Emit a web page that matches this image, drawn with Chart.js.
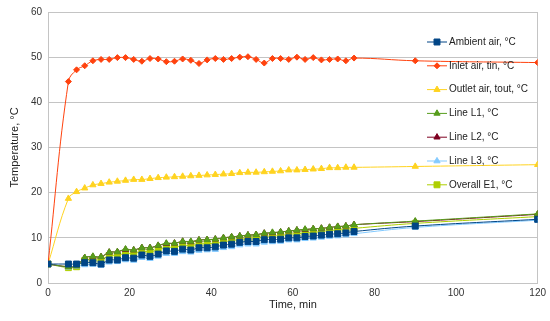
<!DOCTYPE html>
<html>
<head>
<meta charset="utf-8">
<script src="https://cdn.jsdelivr.net/npm/chart.js@4"></script>
<style>
  html, body { margin: 0; padding: 0; background: #fff; }
  #wrap { width: 550px; height: 321px; }
</style>
</head>
<body>
<div id="wrap"><canvas id="tempChart" width="550" height="321"></canvas></div>
<script>
// time, min
const times = [0,5,7,9,11,13,15,17,19,21,23,25,27,29,31,33,35,37,39,41,43,45,47,49,51,53,55,57,59,61,63,65,67,69,71,73,75,90,120];

// temperatures, oC
const ambient = [4.2,4.2,4.2,4.5,4.5,4.2,5.1,5.1,5.6,5.5,6.2,5.9,6.4,7.1,7.0,7.5,7.3,7.8,7.8,8.0,8.4,8.6,9.0,9.2,9.2,9.6,9.6,9.7,10.0,10.0,10.3,10.4,10.6,10.8,10.9,11.1,11.4,12.6,14.1];
const inlet = [4.2,44.6,47.2,48.1,49.2,49.5,49.5,49.9,49.9,49.5,49.1,49.7,49.6,49.0,49.1,49.6,49.3,48.6,49.4,49.7,49.5,49.7,50.0,50.1,49.5,48.7,49.7,49.7,49.5,50.0,49.5,49.9,49.4,49.5,49.6,49.2,49.8,49.2,48.8];
const outlet = [4.2,18.7,20.2,21.0,21.7,22.0,22.3,22.5,22.7,22.9,22.9,23.1,23.3,23.4,23.5,23.6,23.7,23.8,23.9,24.0,24.1,24.2,24.4,24.5,24.5,24.6,24.7,24.8,25.0,25.0,25.1,25.2,25.3,25.5,25.5,25.6,25.6,25.8,26.2];
const lineL1 = [4.2,3.6,3.8,5.6,5.9,5.8,6.8,6.9,7.5,7.3,7.8,7.8,8.3,8.8,8.8,9.2,9.2,9.5,9.6,9.7,10.0,10.2,10.4,10.6,10.7,11.0,11.2,11.3,11.5,11.7,11.9,12.0,12.1,12.3,12.5,12.6,12.9,13.7,15.3];
const lineL2 = [4.2,3.6,3.8,5.6,5.8,5.8,6.8,6.9,7.4,7.3,7.8,7.8,8.3,8.7,8.8,9.2,9.1,9.5,9.6,9.7,10.0,10.2,10.4,10.6,10.7,11.0,11.1,11.3,11.5,11.7,11.8,12.0,12.1,12.3,12.5,12.6,12.9,13.6,15.2];
const lineL3 = [4.2,3.5,3.7,4.0,4.1,3.9,4.6,4.7,5.1,5.0,5.6,5.4,5.9,6.5,6.5,6.9,6.8,7.2,7.3,7.4,7.8,8.0,8.4,8.6,8.6,9.0,9.1,9.2,9.5,9.5,9.8,9.9,10.1,10.3,10.4,10.6,10.9,12.3,13.9];
const overallE1 = [4.2,3.4,3.6,5.0,5.2,5.1,6.1,6.1,6.6,6.5,7.0,6.9,7.4,7.9,7.9,8.3,8.3,8.6,8.7,8.8,9.1,9.4,9.6,9.9,10.0,10.3,10.4,10.5,10.8,10.9,11.1,11.2,11.4,11.6,11.7,11.9,12.1,13.2,14.7];

const xTicks = [0, 20, 40, 60, 80, 100, 120];
const yTicks = [0, 10, 20, 30, 40, 50, 60];

const FONT = "'Liberation Sans', Arial, sans-serif";
const gridColor = '#c4c4c4';

function pts(values) {
    return times.map((t, i) => ({x: t, y: values[i]}));
}

function series(label, values, color, pointStyle, radius) {
    return {
        label: label,
        data: pts(values),
        borderColor: color,
        backgroundColor: color,
        pointBackgroundColor: color,
        pointBorderColor: color,
        borderWidth: 1,
        pointBorderWidth: 1,
        pointStyle: pointStyle,
        pointRadius: radius,
        tension: 0.4
    };
}

// legend drawn over the plot, like the original
const overlayLegend = {
    id: 'overlayLegend',
    afterDraw(chart) {
        const ctx = chart.ctx;
        ctx.save();
        chart.data.datasets.forEach((ds, i) => {
            const y = 42 + i * 23.8;
            ctx.strokeStyle = ds.borderColor;
            ctx.lineWidth = 1;
            ctx.beginPath();
            ctx.moveTo(427, y);
            ctx.lineTo(447, y);
            ctx.stroke();
            ctx.fillStyle = ds.borderColor;
            Chart.helpers.drawPoint(ctx, {
                pointStyle: ds.pointStyle, radius: ds.pointRadius, rotation: 0, borderWidth: 1
            }, 437, y);
            ctx.fillStyle = '#222';
            ctx.font = '10px ' + FONT;
            ctx.textBaseline = 'middle';
            ctx.textAlign = 'left';
            ctx.fillText(ds.label, 449, y);
        });
        ctx.restore();
    }
};

new Chart(document.getElementById('tempChart'), {
    type: 'line',
    data: {
        datasets: [
            series('Ambient air, °C', ambient, '#004586', 'rect', 4.2),
            series('Inlet air, tin, °C', inlet, '#ff420e', 'rectRot', 3),
            series('Outlet air, tout, °C', outlet, '#ffd320', 'triangle', 3.6),
            series('Line L1, °C', lineL1, '#579d1c', 'triangle', 3.6),
            series('Line L2, °C', lineL2, '#7e0021', 'triangle', 3.6),
            series('Line L3, °C', lineL3, '#83caff', 'triangle', 3.6),
            series('Overall E1, °C', overallE1, '#aecf00', 'rect', 4.2)
        ]
    },
    options: {
        responsive: false,
        animation: false,
        layout: { padding: { left: 0, right: 10, top: 10, bottom: 0 } },
        plugins: {
            legend: { display: false },
            tooltip: { enabled: false }
        },
        scales: {
            x: {
                type: 'linear',
                min: 0,
                max: 120,
                afterBuildTicks: s => { s.ticks = xTicks.map(v => ({value: v})); },
                afterFit: s => { s.height = 38; },
                ticks: { color: '#333', font: { family: FONT, size: 10 }, padding: 4, maxRotation: 0 },
                grid: {
                    drawTicks: false,
                    color: c => (c.tick && c.tick.value === 120 ? gridColor : 'rgba(0,0,0,0)')
                },
                border: { display: true, color: gridColor },
                title: {
                    display: true,
                    text: 'Time, min',
                    color: '#222',
                    font: { family: FONT, size: 11 },
                    padding: { top: 0, bottom: 9 }
                }
            },
            y: {
                min: 0,
                max: 60,
                afterBuildTicks: s => { s.ticks = yTicks.map(v => ({value: v})); },
                afterFit: s => { s.width = 48; },
                ticks: { color: '#333', font: { family: FONT, size: 10 }, padding: 6 },
                grid: { drawTicks: false, color: gridColor },
                border: { display: true, color: gridColor },
                title: {
                    display: true,
                    text: 'Temperature, °C',
                    color: '#222',
                    font: { family: FONT, size: 11 },
                    padding: { top: 8, bottom: 0 }
                }
            }
        }
    },
    plugins: [overlayLegend]
});
</script>
</body>
</html>
